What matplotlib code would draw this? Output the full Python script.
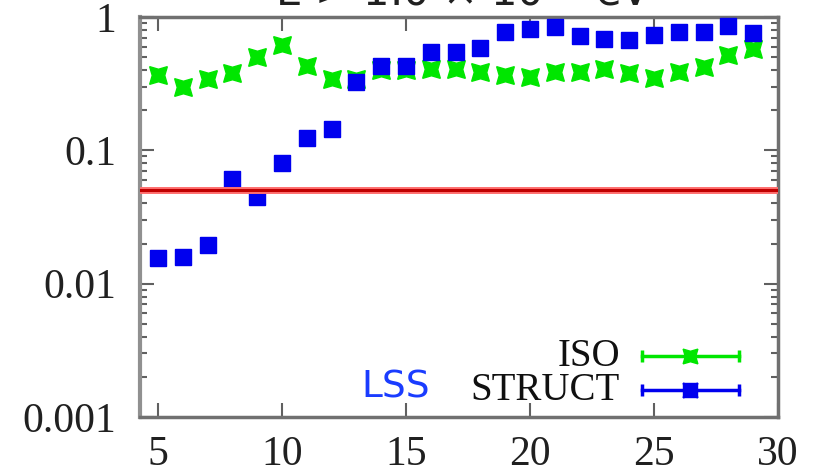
import matplotlib
matplotlib.use("Agg")
import matplotlib.pyplot as plt
from matplotlib.lines import Line2D
from matplotlib.ticker import LogLocator, FixedLocator, FixedFormatter, NullFormatter

# ---- data ----
x_vals = list(range(5, 30))
iso_vals = [0.37, 0.30, 0.34, 0.38, 0.50, 0.62, 0.43, 0.34, 0.34, 0.40, 0.40,
            0.41, 0.41, 0.39, 0.37, 0.355, 0.39, 0.39, 0.41, 0.38, 0.35, 0.39,
            0.42, 0.52, 0.575]
struct_vals = [0.0155, 0.0158, 0.0195, 0.061, 0.0446, 0.080, 0.124, 0.144,
               0.326, 0.43, 0.43, 0.55, 0.55, 0.585, 0.77, 0.81, 0.84, 0.72,
               0.68, 0.67, 0.73, 0.77, 0.77, 0.855, 0.76]
threshold = 0.05
xticks = [5, 10, 15, 20, 25, 30]
yticks = [0.001, 0.01, 0.1, 1]
ytick_labels = ["0.001", "0.01", "0.1", "1"]
series_labels = ["ISO", "STRUCT"]
title_text = r"E > 1.0 $\times$ 10$^{19}$ eV"

GREEN = "#00e600"
BLUE = "#0000ee"
SERIF = "Liberation Serif"

fig = plt.figure(figsize=(8.19, 4.73), dpi=100)
ax = fig.add_axes([140 / 819, 56 / 473, 638 / 819, 400 / 473])

star = (4, 1, 45)
ax.plot(x_vals, iso_vals, linestyle="none", marker=star, ms=18,
        color=GREEN, mec=GREEN, zorder=3)
ax.plot(x_vals, struct_vals, linestyle="none", marker="s", ms=11.5,
        color=BLUE, mec=BLUE, zorder=4)
ax.plot(x_vals, struct_vals, linestyle="none", marker=star, ms=16,
        color=BLUE, mec=BLUE, zorder=4)

ax.axhline(threshold, color="#ff7070", lw=5, zorder=5)
ax.axhline(threshold, color="#c00000", lw=2.2, zorder=5)

ax.set_yscale("log")
ax.set_xlim(4.27, 30)
ax.set_ylim(0.001, 1)

ax.xaxis.set_major_locator(FixedLocator(xticks))
ax.set_xticklabels([str(t) for t in xticks])
ax.yaxis.set_major_locator(FixedLocator(yticks))
ax.yaxis.set_major_formatter(FixedFormatter(ytick_labels))
ax.yaxis.set_minor_locator(LogLocator(base=10, subs=range(2, 10)))
ax.yaxis.set_minor_formatter(NullFormatter())

ax.tick_params(axis="both", which="major", direction="in", top=True,
               right=True, length=10, width=1.5, color="#606060")
ax.tick_params(axis="y", which="minor", direction="in", right=True,
               length=5, width=1.5, color="#606060")
ax.tick_params(axis="y", which="major", pad=17)
ax.tick_params(axis="x", which="major", pad=13)
for lab in ax.get_xticklabels() + ax.get_yticklabels():
    lab.set_fontfamily(SERIF)
    lab.set_fontsize(30)
    lab.set_color("#202020")

for s in ax.spines.values():
    s.set_color("#707070")
    s.set_linewidth(2.5)
ax.spines["left"].set_color("#909090")
ax.spines["left"].set_linewidth(3)

# legend (gnuplot style, drawn by hand)
tr = ax.transAxes
for label, y, col in [(series_labels[0], 0.1525, GREEN), (series_labels[1], 0.0675, BLUE)]:
    ax.add_line(Line2D([0.787, 0.939], [y, y], transform=tr, color=col, lw=2.5, zorder=6))
    ax.add_line(Line2D([0.787, 0.939], [y, y], transform=tr, color=col, lw=0,
                       marker="|", ms=9, mew=2.5, zorder=6))
    if col == BLUE:
        ax.add_line(Line2D([0.862], [y], transform=tr, color=col, marker="s",
                           ms=10, lw=0, zorder=7))
    ax.add_line(Line2D([0.862], [y], transform=tr, color=col, marker=star,
                       ms=15, lw=0, zorder=7))
    ax.text(0.752, y, label, transform=tr, ha="right", va="center",
            fontfamily=SERIF, fontsize=28, color="#101010")

ax.text(0.455, 0.075, "LSS", transform=tr, ha="right", va="center",
        fontfamily="DejaVu Sans", fontsize=27, color="#1a3cff")

fig.text(463 / 819, (473 - 6) / 473, title_text, ha="center", va="baseline",
         fontfamily="DejaVu Sans", fontsize=30, color="#202020")

fig.savefig("out.png", dpi=100)
